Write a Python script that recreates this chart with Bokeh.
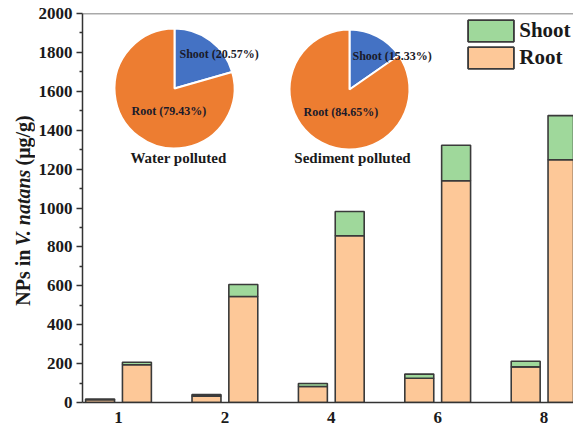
import math
from bokeh.plotting import figure
from bokeh.layouts import row
from bokeh.models import ColumnDataSource, Legend, LegendItem, Label, Span, FixedTicker
from bokeh.embed import file_html
from bokeh.resources import INLINE

# ---------------- data ----------------
days = ["1", "2", "4", "6", "8"]
left_root = [14, 33, 82, 125, 183]
left_shoot = [4, 8, 16, 21, 29]
right_root = [194, 545, 857, 1140, 1248]
right_shoot = [13, 62, 125, 183, 227]

pie_titles = ["Water polluted", "Sediment polluted"]
pie_shoot_pct = [20.57, 15.33]
pie_root_pct = [79.43, 84.65]

y_ticks = list(range(0, 2001, 200))

# ---------------- layout constants ----------------
TOTAL_W, H = 573, 430
TITLE_W = 35
W = TOTAL_W - TITLE_W
FRAME_LEFT_PX = 82
BORDER_L, BORDER_T, BORDER_B = FRAME_LEFT_PX - TITLE_W, 13, 28
FRAME_TOP_PX = 13
FRAME_BOTTOM_PX = H - BORDER_B
GROUP_PX = 106.4
FIRST_GROUP_PX = 118.0
FRAME_W = TOTAL_W - FRAME_LEFT_PX
X0 = -(FIRST_GROUP_PX - FRAME_LEFT_PX) / GROUP_PX
X1 = X0 + FRAME_W / GROUP_PX
OFFSET = 0.173
BAR_W = 0.272


def xd(px):
    return X0 + (px - FRAME_LEFT_PX) / GROUP_PX


def yd(py):
    return 2000 - (py - FRAME_TOP_PX) * 2000.0 / (FRAME_BOTTOM_PX - FRAME_TOP_PX)


ROOT_C = "#FDC898"
SHOOT_C = "#9FD89B"
EDGE_C = "#3a3a3a"
SERIF = "Liberation Serif"

# ---------------- narrow panel holding the y-axis title ----------------
t = figure(width=TITLE_W, height=H, output_backend="svg", toolbar_location=None,
           x_range=(0, TITLE_W), y_range=(0, H), x_axis_type=None, y_axis_type=None,
           min_border=0)
t.outline_line_color = None
t.grid.visible = False
fs = 20
pieces = [("NPs in", "bold", 323), ("V. natans", "bold italic", 323 - 66),
          ("(\u03bcg/g)", "bold", 323 - 66 - 89)]
for txt, style, py in pieces:
    t.add_layout(Label(x=22, y=H - py, text=txt, angle=math.pi / 2,
                       text_align="left", text_baseline="middle",
                       text_font=SERIF, text_font_style=style,
                       text_font_size=f"{fs}px", text_color="#1a1a1a"))

# ---------------- main chart ----------------
p = figure(width=W, height=H, output_backend="svg", toolbar_location=None,
           x_range=(X0, X1), y_range=(0, 2000),
           min_border_left=BORDER_L, min_border_right=0, min_border_top=BORDER_T,
           min_border_bottom=BORDER_B)
p.outline_line_color = None
p.xgrid.visible = False
p.ygrid.visible = False
p.background_fill_color = "white"

idx = list(range(len(days)))
src = ColumnDataSource(dict(
    xl=[i - OFFSET for i in idx], xr=[i + OFFSET for i in idx],
    lr=left_root, ls=left_shoot, rr=right_root, rs=right_shoot,
    lt=[a + b for a, b in zip(left_root, left_shoot)],
    rt=[a + b for a, b in zip(right_root, right_shoot)],
))

kw = dict(width=BAR_W, line_color=EDGE_C, line_width=1.6, source=src)
r1 = p.vbar(x="xl", bottom=0, top="lr", fill_color=ROOT_C, **kw)
s1 = p.vbar(x="xl", bottom="lr", top="lt", fill_color=SHOOT_C, **kw)
r2 = p.vbar(x="xr", bottom=0, top="rr", fill_color=ROOT_C, **kw)
s2 = p.vbar(x="xr", bottom="rr", top="rt", fill_color=SHOOT_C, **kw)

# top border line
p.add_layout(Span(location=2000, dimension="width", line_color="#555", line_width=1.5))

# axes
xa = p.xaxis[0]
xa.ticker = FixedTicker(ticks=idx)
xa.major_label_overrides = {i: d for i, d in zip(idx, days)}
xa.major_tick_line_color = None
xa.minor_tick_line_color = None
xa.major_tick_in = 0
xa.major_tick_out = 0
xa.major_label_standoff = 9
xa.axis_line_color = "#333"
xa.axis_line_width = 1.5
xa.major_label_text_font = SERIF
xa.major_label_text_font_style = "bold"
xa.major_label_text_font_size = "17px"
xa.major_label_text_color = "#1a1a1a"

ya = p.yaxis[0]
ya.ticker = FixedTicker(ticks=y_ticks, minor_ticks=list(range(100, 2000, 200)))
ya.axis_line_color = "#333"
ya.axis_line_width = 1.5
ya.major_tick_line_color = "#333"
ya.minor_tick_line_color = "#333"
ya.major_tick_line_width = 1.5
ya.minor_tick_line_width = 1.5
ya.major_tick_in = 0
ya.major_tick_out = 6
ya.minor_tick_in = 0
ya.minor_tick_out = 3
ya.major_label_standoff = 4
ya.major_label_text_font = SERIF
ya.major_label_text_font_style = "bold"
ya.major_label_text_font_size = "17px"
ya.major_label_text_color = "#1a1a1a"

# pies
pie_centers = [(174, 88), (349, 89)]
for (cx, cy), sh, ro in zip(pie_centers, pie_shoot_pct, pie_root_pct):
    tot = sh + ro
    a_sh = 2 * math.pi * sh / tot
    psrc = ColumnDataSource(dict(
        x=[xd(cx), xd(cx)], y=[yd(cy), yd(cy)],
        start=[math.pi / 2 - a_sh, math.pi / 2],
        end=[math.pi / 2, math.pi / 2 + 2 * math.pi - a_sh],
        color=["#4472C4", "#ED7D31"],
    ))
    p.wedge(x="x", y="y", radius=60, radius_units="screen", start_angle="start",
            end_angle="end", fill_color="color", line_color="white", line_width=2,
            source=psrc)

pie_text = [
    [("Shoot (%.2f%%)" % pie_shoot_pct[0], 179, 53), ("Root (%.2f%%)" % pie_root_pct[0], 131, 110)],
    [("Shoot (%.2f%%)" % pie_shoot_pct[1], 352, 55), ("Root (%.2f%%)" % pie_root_pct[1], 303, 111)],
]
for group in pie_text:
    for txt, px, py in group:
        p.add_layout(Label(x=xd(px), y=yd(py), text=txt, text_align="left",
                           text_baseline="middle", text_font=SERIF,
                           text_font_style="bold", text_font_size="12px",
                           text_color="#1a1a2a"))
for (cx, cy), title in zip([(178, 157), (352, 157)], pie_titles):
    p.add_layout(Label(x=xd(cx), y=yd(cy), text=title, text_align="center",
                       text_baseline="middle", text_font=SERIF,
                       text_font_style="bold", text_font_size="15px",
                       text_color="#1a1a1a"))

legend = Legend(items=[LegendItem(label="Shoot", renderers=[s1, s2]),
                       LegendItem(label="Root", renderers=[r1, r2])],
                location=(468 - 5.75 - FRAME_LEFT_PX, FRAME_BOTTOM_PX - 71),
                glyph_width=57, glyph_height=27,
                label_height=27, spacing=-1, padding=0, margin=0, label_standoff=0,
                label_text_font=SERIF, label_text_font_style="bold",
                label_text_font_size="21px", label_text_color="#1a1a1a",
                border_line_color=None, background_fill_alpha=0)
p.add_layout(legend)

layout = row(t, p, spacing=0)
open("out.html", "w").write(file_html(layout, INLINE))
